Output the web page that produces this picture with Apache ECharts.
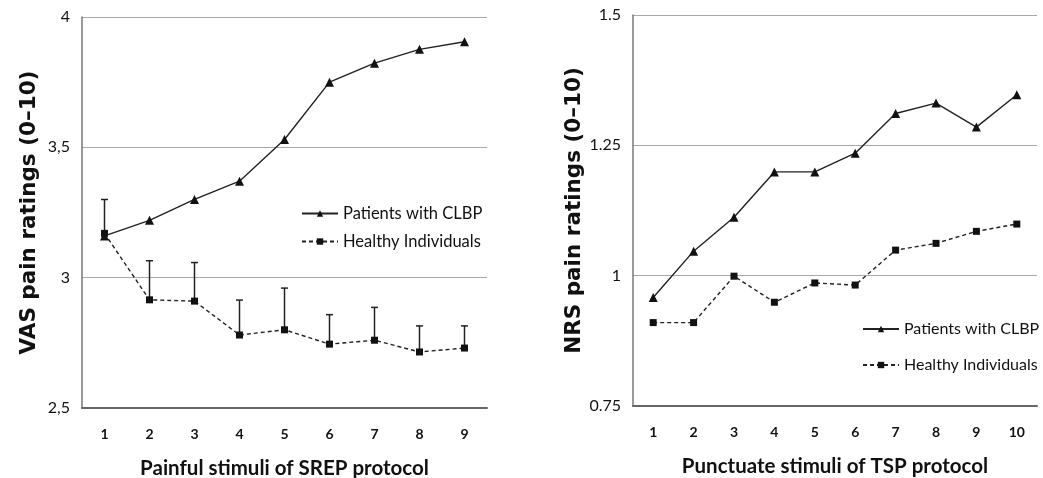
<!DOCTYPE html>
<html>
<head>
<meta charset="utf-8">
<script src="https://cdn.jsdelivr.net/npm/echarts@6/dist/echarts.min.js"></script>
<style>
html,body{margin:0;padding:0;background:#fff;}
#chart{width:1043px;height:478px;}
</style>
</head>
<body>
<div id="chart"></div>
<script>
// ---- data ----
var srepCategories = ['1','2','3','4','5','6','7','8','9'];
var srepPatients = [3.16, 3.22, 3.30, 3.37, 3.53, 3.75, 3.823, 3.876, 3.905];
var srepHealthy = [3.17, 2.915, 2.91, 2.78, 2.80, 2.745, 2.76, 2.715, 2.73];
var srepHealthyErrTop = [3.30, 3.065, 3.058, 2.914, 2.96, 2.858, 2.886, 2.815, 2.815];
var srepTicks = ['2,5', '3', '3,5', '4'];

var tspCategories = ['1','2','3','4','5','6','7','8','9','10'];
var tspPatients = [0.958, 1.047, 1.112, 1.199, 1.199, 1.235, 1.311, 1.331, 1.285, 1.347];
var tspHealthy = [0.910, 0.910, 0.999, 0.949, 0.986, 0.982, 1.049, 1.062, 1.085, 1.099];
var tspTicks = ['0.75', '1', '1.25', '1.5'];

var seriesNames = ['Patients with CLBP', 'Healthy Individuals'];

// ---- chart ----
var FONT = 'Lato, "Open Sans", sans-serif';
var INK = '#111';
var chart = echarts.init(document.getElementById('chart'), null, {renderer: 'canvas'});

function yAxisCfg(gridIndex, min, max, interval, ticks, name) {
  return {
    gridIndex: gridIndex, type: 'value', min: min, max: max, interval: interval,
    name: name, nameLocation: 'middle', nameGap: 42, nameRotate: 90,
    nameTextStyle: {fontFamily: '"DejaVu Sans", sans-serif', fontWeight: 'bold', fontSize: 21.5, color: INK},
    axisLine: {show: true, lineStyle: {color: '#777', width: 1.5}},
    axisTick: {show: false},
    axisLabel: {
      fontFamily: FONT, fontSize: 16, color: INK, margin: 12,
      formatter: function (v) {
        var idx = Math.round((v - min) / interval);
        return ticks[idx] !== undefined ? ticks[idx] : '';
      }
    },
    splitLine: {show: true, lineStyle: {color: '#a8a8a8', width: 1.2}}
  };
}

function xAxisCfg(gridIndex, cats, name) {
  return {
    gridIndex: gridIndex, type: 'category', data: cats, boundaryGap: true,
    name: name, nameLocation: 'middle', nameGap: 50,
    nameTextStyle: {fontFamily: FONT, fontWeight: 'bold', fontSize: 20.5, color: INK},
    axisLine: {show: true, lineStyle: {color: '#666', width: 2}},
    axisTick: {show: false},
    axisLabel: {fontFamily: FONT, fontSize: 14, fontWeight: 'bold', color: INK, margin: 19}
  };
}

function lineSeries(name, xi, data, dashed) {
  return {
    name: name, type: 'line', xAxisIndex: xi, yAxisIndex: xi, data: data,
    symbol: dashed ? 'rect' : 'triangle', symbolSize: dashed ? 7 : 9,
    itemStyle: {color: INK},
    lineStyle: {color: '#222', width: 1.4, type: dashed ? [4, 3] : 'solid'},
    z: dashed ? 3 : 4,
    animation: false
  };
}

var errData = srepHealthy.map(function (v, i) { return [i, v, srepHealthyErrTop[i]]; });

var option = {
  backgroundColor: '#fff',
  animation: false,
  grid: [
    {left: 82, top: 17, width: 405, height: 391, outerBoundsMode: 'none', containLabel: false},
    {left: 633, top: 15, width: 404, height: 391, outerBoundsMode: 'none', containLabel: false}
  ],
  legend: [
    {
      data: seriesNames, orient: 'vertical', left: 296, top: 200, itemGap: 11,
      itemWidth: 36, itemHeight: 8,
      textStyle: {fontFamily: FONT, fontSize: 16.5, color: INK}
    },
    {
      data: seriesNames, orient: 'vertical', left: 857, top: 316, itemGap: 20,
      itemWidth: 36, itemHeight: 8,
      textStyle: {fontFamily: FONT, fontSize: 16, color: INK}
    }
  ],
  xAxis: [
    xAxisCfg(0, srepCategories, 'Painful stimuli of SREP protocol'),
    xAxisCfg(1, tspCategories, 'Punctuate stimuli of TSP protocol')
  ],
  yAxis: [
    yAxisCfg(0, 2.5, 4, 0.5, srepTicks, 'VAS pain ratings (0–10)'),
    yAxisCfg(1, 0.75, 1.5, 0.25, tspTicks, 'NRS pain ratings (0–10)')
  ],
  series: [
    {
      type: 'custom', xAxisIndex: 0, yAxisIndex: 0, data: errData, z: 2,
      renderItem: function (params, api) {
        var x = api.value(0);
        var p0 = api.coord([x, api.value(1)]);
        var p1 = api.coord([x, api.value(2)]);
        var cap = 3.5;
        return {
          type: 'group',
          children: [
            {type: 'line', shape: {x1: p0[0], y1: p0[1], x2: p1[0], y2: p1[1]}, style: {stroke: '#222', lineWidth: 1.5}},
            {type: 'line', shape: {x1: p1[0] - cap, y1: p1[1], x2: p1[0] + cap, y2: p1[1]}, style: {stroke: '#222', lineWidth: 1.5}}
          ]
        };
      }
    },
    lineSeries(seriesNames[0], 0, srepPatients, false),
    lineSeries(seriesNames[1], 0, srepHealthy, true),
    lineSeries(seriesNames[0], 1, tspPatients, false),
    lineSeries(seriesNames[1], 1, tspHealthy, true)
  ]
};
chart.setOption(option);
</script>
</body>
</html>
